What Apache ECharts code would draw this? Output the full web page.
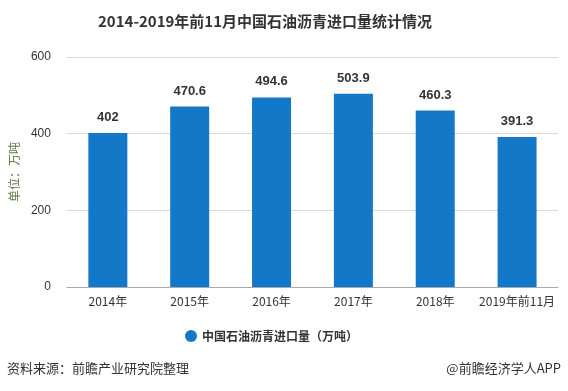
<!DOCTYPE html>
<html><head><meta charset="utf-8">
<script src="https://cdn.jsdelivr.net/npm/echarts@6/dist/echarts.min.js"></script>
<style>html,body{margin:0;padding:0;background:#fff}#c{width:568px;height:391px}</style>
</head><body><div id="c"></div>
<script>
var categories = ['2014年','2015年','2016年','2017年','2018年','2019年前11月'];
var values = [402, 470.6, 494.6, 503.9, 460.3, 391.3];
var labels = ['402','470.6','494.6','503.9','460.3','391.3'];
var seriesName = '中国石油沥青进口量（万吨）';
var chart = echarts.init(document.getElementById('c'));
chart.setOption({
  animation: false,
  title: {
    text: '2014-2019年前11月中国石油沥青进口量统计情况',
    left: 93, top: 9,
    textStyle: {fontSize: 15, fontWeight: 'bold', color: '#333', fontFamily: 'Noto Sans CJK SC'}
  },
  grid: {left: 66, right: 10, top: 57, bottom: 104},
  legend: {
    bottom: 44, left: 180, icon: 'circle', itemWidth: 12, itemHeight: 12,
    textStyle: {fontSize: 12, fontWeight: 'bold', color: '#333', fontFamily: 'Noto Sans CJK SC'},
    data: [seriesName]
  },
  xAxis: {
    type: 'category', data: categories,
    axisLine: {lineStyle: {color: '#aaa'}},
    axisTick: {alignWithLabel: true, lineStyle: {color: '#aaa'}},
    axisLabel: {color: '#333', fontSize: 12, margin: 8, interval: 0, fontFamily: 'Noto Sans CJK SC'}
  },
  yAxis: {
    type: 'value', min: 0, max: 600, interval: 200,
    name: '单位：万吨', nameLocation: 'middle', nameGap: 42, nameRotate: 90,
    nameTextStyle: {color: '#5f7a45', fontSize: 12, fontFamily: 'Noto Sans CJK SC'},
    axisLine: {show: false}, axisTick: {show: false},
    axisLabel: {color: '#333', fontSize: 12, margin: 16},
    splitLine: {lineStyle: {color: '#d9d9d9'}}
  },
  series: [{
    name: seriesName, type: 'bar', data: values, barWidth: 39,
    itemStyle: {color: '#1478c8'},
    label: {
      show: true, position: 'top', distance: 9,
      formatter: function(p){ return labels[p.dataIndex]; },
      color: '#333', fontSize: 13, fontWeight: 'bold'
    }
  }],
  graphic: [
    {type: 'text', left: 7, top: 362, style: {text: '资料来源：前瞻产业研究院整理', fontSize: 13, fill: '#333', fontFamily: 'Noto Sans CJK SC'}},
    {type: 'text', right: 7, top: 362, style: {text: '@前瞻经济学人APP', fontSize: 13, fill: '#333', fontFamily: 'Noto Sans CJK SC'}}
  ]
});
</script></body></html>
